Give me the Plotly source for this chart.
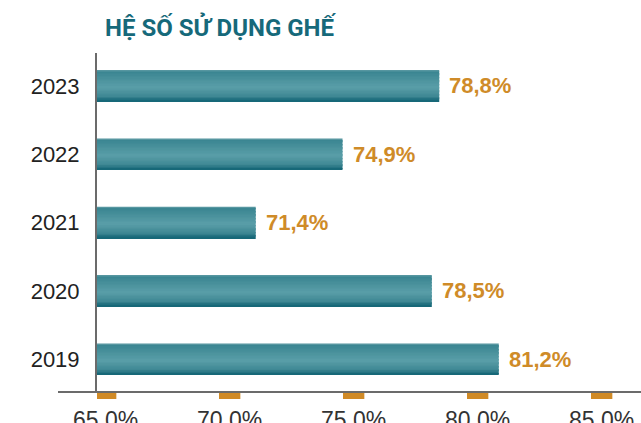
import plotly.graph_objects as go

years = ["2019", "2020", "2021", "2022", "2023"]
values = [81.2, 78.5, 71.4, 74.9, 78.8]
tick_values = [65, 70, 75, 80, 85]
tick_labels = ["65,0%", "70,0%", "75,0%", "80,0%", "85,0%"]
title_text = "HỆ SỐ SỬ DỤNG GHẾ"

W, H = 641, 423
L, T, B = 97, 53, 31  # plot area: x 97..641, y 53..392
plot_w = W - L
plot_h = H - T - B
px_per_pct = 24.8
x_range = [65, 65 + plot_w / px_per_pct]

# vertical gradient stops for bars (t = 0 top, 1 bottom)
stops = [(0.0, (110, 165, 173)), (0.05, (58, 133, 145)), (0.55, (90, 158, 168)),
         (0.85, (62, 135, 147)), (1.0, (16, 98, 115))]

def grad(t):
    for (t0, c0), (t1, c1) in zip(stops[:-1], stops[1:]):
        if t0 <= t <= t1:
            f = (t - t0) / (t1 - t0) if t1 > t0 else 0
            return "rgb(%d,%d,%d)" % tuple(round(a + (b - a) * f) for a, b in zip(c0, c1))
    return "rgb(%d,%d,%d)" % stops[-1][1]

fig = go.Figure()
bar_w = 0.455
N = 22
sw = bar_w / N
for i in range(N):
    t = (i + 0.5) / N
    fig.add_trace(go.Bar(
        x=values, y=years, orientation="h",
        width=sw * 1.08, offset=bar_w / 2 - (i + 1) * sw,
        marker=dict(color=grad(t), line=dict(width=0)),
        hoverinfo="skip", showlegend=False,
    ))

annotations = []
for idx, v in enumerate(values):
    annotations.append(dict(
        x=v, y=idx, xref="x", yref="y", xanchor="left", yanchor="middle",
        xshift=8, showarrow=False,
        text=f"{v:.1f}%".replace(".", ","),
        font=dict(family="Liberation Sans", size=22, color="#cf8b28", weight="bold"),
    ))

annotations.append(dict(
    x=(103 - L) / plot_w, y=(H - B - 27) / plot_h, xref="paper", yref="paper",
    xanchor="left", yanchor="middle", showarrow=False, text=title_text,
    font=dict(family="Roboto", size=24, color="#16697a", weight="bold"),
))

shapes = []
for v in tick_values:
    shapes.append(dict(
        type="rect", xref="x", yref="paper", ysizemode="pixel", yanchor=0,
        x0=v - 0.08, x1=v + 0.78, y0=-1, y1=-7,
        fillcolor="#d08a26", line=dict(width=0),
    ))
shapes.append(dict(
    type="line", xref="paper", yref="paper",
    x0=(58 - L) / plot_w, x1=1.0, y0=0, y1=0,
    line=dict(color="#6b6b6b", width=2),
))

fig.update_layout(
    width=W, height=H,
    margin=dict(l=L, r=0, t=T, b=B, pad=0, autoexpand=False),
    barmode="overlay",
    plot_bgcolor="white", paper_bgcolor="white",
    annotations=annotations, shapes=shapes,
    xaxis=dict(
        range=x_range, showgrid=False, zeroline=False, showline=False,
        tickvals=[v + 0.35 for v in tick_values], ticktext=tick_labels,
        ticks="", tickfont=dict(family="Liberation Sans", size=23, color="#333333"),
        ticklabelstandoff=12, automargin=False,
    ),
    yaxis=dict(
        type="category", categoryorder="array", categoryarray=years,
        range=[-0.48, 4.48], showgrid=False, zeroline=False,
        showline=True, linecolor="#6b6b6b", linewidth=2,
        ticks="", tickfont=dict(family="Liberation Sans", size=22, color="#222222"),
        ticklabelstandoff=11, automargin=False,
    ),
)

fig.write_html(
    "out.html",
    config={"displayModeBar": False},
    post_script="document.body.style.margin='0';document.body.style.overflow='hidden';",
)
